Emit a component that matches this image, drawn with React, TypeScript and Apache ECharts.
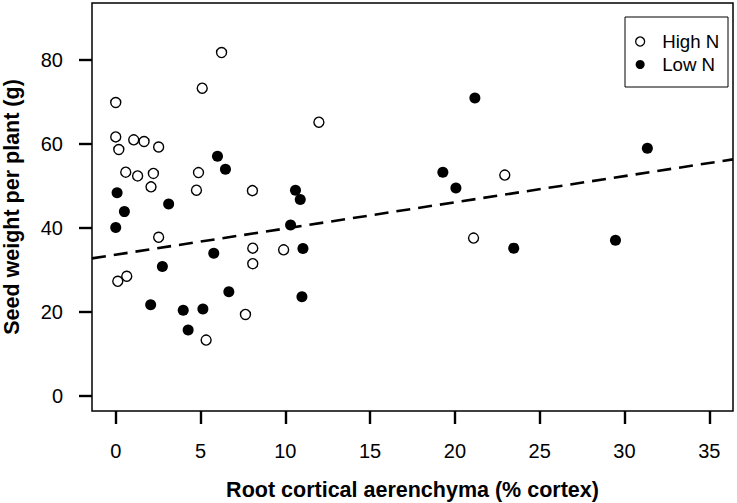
import React, { useEffect, useRef } from "react";
import * as echarts from "echarts";

const highNx = [6.24, 5.1, 0, 11.98, 0, 0.18, 1.06, 1.67, 2.53, 0.59, 1.29, 2.22, 2.08, 4.88, 4.76, 8.06, 2.53, 8.08, 9.9, 8.08, 0.12, 0.65, 7.65, 5.33, 22.94, 21.1];
const highNy = [81.8, 73.3, 69.9, 65.2, 61.7, 58.7, 61.0, 60.6, 59.3, 53.3, 52.4, 53.0, 49.8, 53.2, 49.0, 48.9, 37.8, 35.2, 34.8, 31.5, 27.3, 28.5, 19.4, 13.3, 52.6, 37.6];
const lowNx = [6.0, 6.47, 0.08, 0.51, 0, 3.12, 10.6, 10.88, 10.31, 11.04, 5.78, 2.75, 6.67, 10.98, 2.06, 3.98, 5.14, 4.27, 21.18, 19.29, 20.06, 31.35, 23.47, 29.47];
const lowNy = [57.1, 54.0, 48.4, 43.9, 40.1, 45.7, 49.0, 46.8, 40.7, 35.1, 34.0, 30.8, 24.8, 23.6, 21.7, 20.4, 20.7, 15.7, 70.95, 53.3, 49.5, 59.0, 35.2, 37.1];
const xTicks = [0, 5, 10, 15, 20, 25, 30, 35];
const yTicks = [0, 20, 40, 60, 80];
const fitIntercept = 33.64;
const fitSlope = 0.624;
const xRange = [-1.4, 36.4];
const yRange = [-3.6, 93.6];

const FONT = "'Liberation Sans', Arial, Helvetica, sans-serif";
const TICK_LEN = 13;

export default function App() {
  const ref = useRef<HTMLDivElement>(null);
  useEffect(() => {
    if (!ref.current) return;
    const chart = echarts.init(ref.current, null, { renderer: "svg" });
    const high = highNx.map((x, i) => [x, highNy[i]]);
    const low = lowNx.map((x, i) => [x, lowNy[i]]);
    const fit = xRange.map((x) => [x, fitIntercept + fitSlope * x]);
    const tickLine = { color: "rgb(0,0,0)", width: 2.4 };
    chart.setOption({
      animation: false,
      backgroundColor: "#ffffff",
      grid: { left: 92, top: 3, width: 641, height: 408, show: true, borderColor: "#000000", borderWidth: 1.5, backgroundColor: "transparent" },
      xAxis: {
        type: "value",
        min: xRange[0],
        max: xRange[1],
        axisLine: { show: false, onZero: false },
        splitLine: { show: false },
        axisTick: { show: true, length: TICK_LEN, lineStyle: tickLine, customValues: xTicks },
        axisLabel: { customValues: xTicks, margin: 30, fontSize: 20, color: "#000000", fontFamily: FONT },
      },
      yAxis: {
        type: "value",
        min: yRange[0],
        max: yRange[1],
        axisLine: { show: false, onZero: false },
        splitLine: { show: false },
        axisTick: { show: true, length: TICK_LEN, lineStyle: tickLine, customValues: yTicks },
        axisLabel: { customValues: yTicks, margin: 29, fontSize: 20, color: "#000000", fontFamily: FONT },
      },
      legend: {
        orient: "vertical",
        left: 635,
        top: 32,
        padding: 0,
        itemGap: 4,
        itemWidth: 34,
        itemHeight: 9,
        textStyle: { fontSize: 18.7, color: "#000000", fontFamily: FONT },
        data: [
          { name: "High N", icon: "circle", itemStyle: { color: "#ffffff", borderColor: "#000000", borderWidth: 1.3, opacity: 1 } },
          { name: "Low N", icon: "circle", itemStyle: { color: "#000000", opacity: 1 } },
        ],
      },
      graphic: [
        { type: "rect", shape: { x: 625, y: 17, width: 103, height: 70 }, style: { fill: "none", stroke: "#000000", lineWidth: 1 }, z: 10 },
        { type: "text", x: 412.5, y: 490, style: { text: "Root cortical aerenchyma (% cortex)", font: `bold 21.5px ${FONT}`, fill: "#000000", textAlign: "center", textVerticalAlign: "middle" } },
        { type: "text", x: 12, y: 207, rotation: Math.PI / 2, style: { text: "Seed weight per plant (g)", font: `bold 21.5px ${FONT}`, fill: "#000000", textAlign: "center", textVerticalAlign: "middle" } },
      ],
      series: [
        {
          name: "High N",
          type: "scatter",
          data: high,
          symbol: "circle",
          symbolSize: 10,
          itemStyle: { color: "rgba(255,255,255,0)", borderColor: "#000000", borderWidth: 1.4, opacity: 1 },
        },
        {
          name: "Low N",
          type: "scatter",
          data: low,
          symbol: "circle",
          symbolSize: 11,
          itemStyle: { color: "#000000", opacity: 1 },
        },
        {
          name: "fit",
          type: "line",
          data: fit,
          symbol: "none",
          clip: true,
          lineStyle: { color: "#000000", width: 2.6, type: [14, 8] },
        },
      ],
    });
    return () => chart.dispose();
  }, []);
  return <div ref={ref} style={{ position: "absolute", left: 0, top: 0, width: 737, height: 503 }} />;
}
